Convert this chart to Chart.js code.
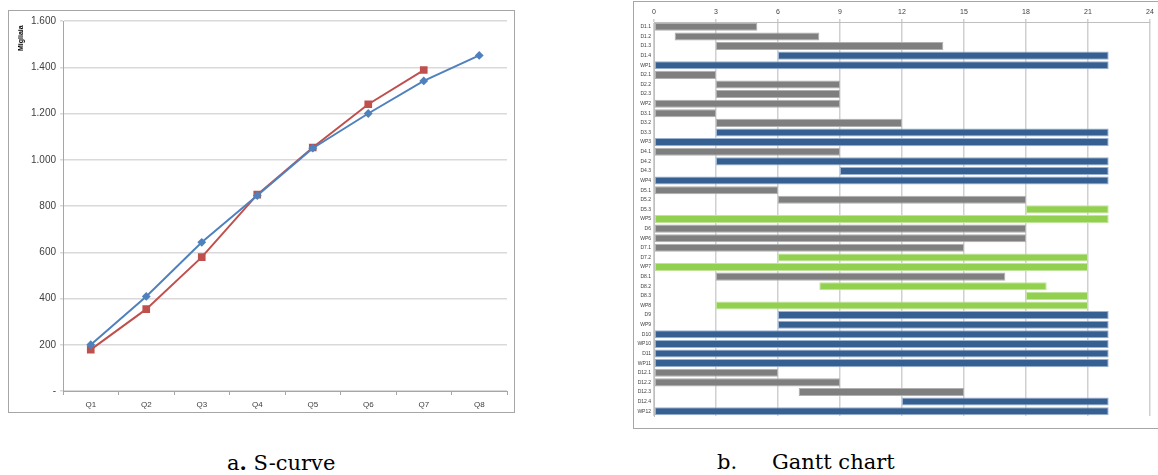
<!DOCTYPE html>
<html>
<head>
<meta charset="utf-8">
<script src="https://cdn.jsdelivr.net/npm/chart.js@4.4.1/dist/chart.umd.min.js"></script>
<style>
  body { margin: 0; background: #fff; width: 1158px; height: 475px; overflow: hidden; position: relative; }
  .frame { position: absolute; box-sizing: border-box; border: 1px solid #a6a6a6; }
  .box { position: absolute; }
  .ytitle { position: absolute; font: bold 7px "Liberation Sans", Arial, sans-serif; color: #000; transform: rotate(-90deg); transform-origin: left top; }
  .caption { position: absolute; top: 452px; font: 21px/21px "DejaVu Serif", serif; color: #000; white-space: pre; }
</style>
</head>
<body>

<div class="frame" style="left:8px; top:10px; width:507px; height:403px;"></div>
<div class="box" style="left:0; top:0; width:520px; height:420px;"><canvas id="sCurve"></canvas></div>
<div class="ytitle" style="top:51px; left:17px;">Migliaia</div>

<div class="frame" style="left:633px; top:1px; width:540px; height:428px;"></div>
<div class="box" style="left:633px; top:0; width:525px; height:430px;"><canvas id="gantt"></canvas></div>

<div class="caption" style="left:227px;">a<b>.</b> S-curve</div>
<div class="caption" style="left:717px;">b.</div>
<div class="caption" style="left:772px;">Gantt chart</div>

<script>
// S-curve data (thousands)
var quarters = ['Q1', 'Q2', 'Q3', 'Q4', 'Q5', 'Q6', 'Q7', 'Q8'];
var planned = [200, 409, 643, 845, 1050, 1200, 1341, 1451];
var actual = [179, 354, 579, 849, 1053, 1240, 1388, null];
var yTicks = [0, 200, 400, 600, 800, 1000, 1200, 1400, 1600];

// Gantt data (months)
var tasks = ['D1.1', 'D1.2', 'D1.3', 'D1.4', 'WP1', 'D2.1', 'D2.2', 'D2.3', 'WP2', 'D3.1', 'D3.2', 'D3.3', 'WP3',
    'D4.1', 'D4.2', 'D4.3', 'WP4', 'D5.1', 'D5.2', 'D5.3', 'WP5', 'D6', 'WP6', 'D7.1', 'D7.2', 'WP7',
    'D8.1', 'D8.2', 'D8.3', 'WP8', 'D9', 'WP9', 'D10', 'WP10', 'D11', 'WP11', 'D12.1', 'D12.2', 'D12.3', 'D12.4', 'WP12'];
var taskStart = [0, 1, 3, 6, 0, 0, 3, 3, 0, 0, 3, 3, 0,
    0, 3, 9, 0, 0, 6, 18, 0, 0, 0, 0, 6, 0,
    3, 8, 18, 3, 6, 6, 0, 0, 0, 0, 0, 0, 7, 12, 0];
var taskEnd = [5, 8, 14, 22, 22, 3, 9, 9, 9, 3, 12, 22, 22,
    9, 22, 22, 22, 6, 18, 22, 22, 18, 18, 15, 21, 21,
    17, 19, 21, 21, 22, 22, 22, 22, 22, 22, 6, 9, 15, 22, 22];
// g = grey, b = blue, l = green
var taskGroup = ['g', 'g', 'g', 'b', 'b', 'g', 'g', 'g', 'g', 'g', 'g', 'b', 'b',
    'g', 'b', 'b', 'b', 'g', 'g', 'l', 'l', 'g', 'g', 'g', 'l', 'l',
    'g', 'l', 'l', 'l', 'b', 'b', 'b', 'b', 'b', 'b', 'g', 'g', 'g', 'b', 'b'];

var fill = { g: '#7f7f7f', b: '#366092', l: '#92d050' };
var edge = { g: '#b0b0b0', b: '#9bb2d1', l: '#c0e49a' };

function itNumber(v) {
    if (v === 0) return '-';
    return String(v).replace(/\B(?=(\d{3})+(?!\d))/g, '.');
}

new Chart(document.getElementById('sCurve'), {
    type: 'line',
    data: {
        labels: quarters,
        datasets: [{
            data: planned,
            borderColor: '#4f81bd',
            backgroundColor: '#4f81bd',
            borderWidth: 2,
            pointStyle: 'rectRot',
            pointRadius: 3
        }, {
            data: actual,
            borderColor: '#c0504d',
            backgroundColor: '#c0504d',
            borderWidth: 2,
            pointStyle: 'rect',
            pointRadius: 4
        }]
    },
    options: {
        responsive: true,
        maintainAspectRatio: false,
        animation: false,
        layout: { padding: { top: 21, right: 13, left: 0, bottom: 0 } },
        plugins: { legend: { display: false }, tooltip: { enabled: false } },
        scales: {
            x: {
                offset: true,
                afterFit: function (s) { s.height = 29; },
                grid: { offset: true, drawOnChartArea: false, tickLength: 4, color: '#a6a6a6' },
                border: { color: '#a6a6a6' },
                ticks: { font: { family: 'Liberation Sans', size: 8 }, color: '#404040', padding: 5 }
            },
            y: {
                min: 0,
                max: 1600,
                afterFit: function (s) { s.width = 63; },
                afterBuildTicks: function (s) { s.ticks = yTicks.map(function (v) { return { value: v }; }); },
                grid: { color: '#d9d9d9', lineWidth: 1.5, tickLength: 3 },
                border: { color: '#a6a6a6' },
                ticks: {
                    font: { family: 'Liberation Sans', size: 10 }, color: '#404040', padding: 4,
                    callback: function (v) { return itNumber(v); }
                }
            }
        }
    }
});

new Chart(document.getElementById('gantt'), {
    type: 'bar',
    data: {
        labels: tasks,
        datasets: [{
            data: tasks.map(function (t, i) { return [taskStart[i], taskEnd[i]]; }),
            backgroundColor: taskGroup.map(function (g) { return fill[g]; }),
            borderColor: taskGroup.map(function (g) { return edge[g]; }),
            borderWidth: 1,
            borderSkipped: false,
            categoryPercentage: 1,
            barPercentage: 0.84
        }]
    },
    options: {
        indexAxis: 'y',
        responsive: true,
        maintainAspectRatio: false,
        animation: false,
        layout: { padding: { top: 0, right: 8, left: 0, bottom: 14 } },
        plugins: { legend: { display: false }, tooltip: { enabled: false } },
        scales: {
            x: {
                position: 'top',
                min: 0,
                max: 24,
                afterFit: function (s) { s.height = 22; },
                grid: { color: '#d0d0d0', lineWidth: 1.5, tickLength: 3 },
                border: { color: '#bfbfbf' },
                ticks: { stepSize: 3, font: { family: 'Liberation Sans', size: 7 }, color: '#404040', padding: 3 }
            },
            y: {
                afterFit: function (s) { s.width = 21; },
                grid: { drawOnChartArea: false, drawTicks: false },
                border: { color: '#bfbfbf' },
                ticks: { autoSkip: false, font: { family: 'Liberation Sans', size: 5 }, color: '#404040', padding: 3 }
            }
        }
    }
});
</script>
</body>
</html>
